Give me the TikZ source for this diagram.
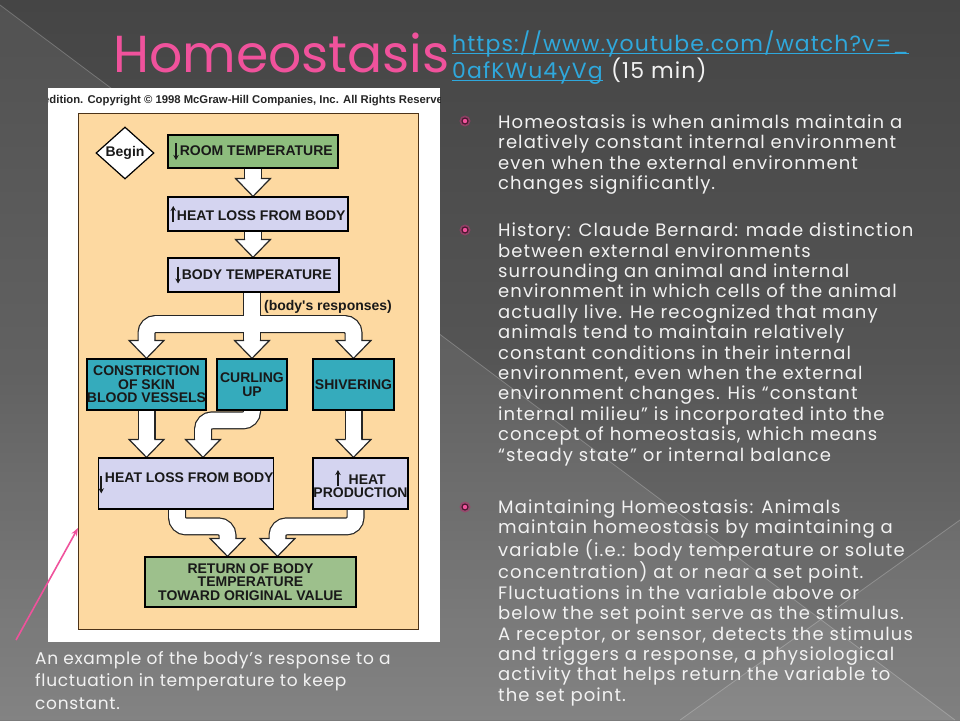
\documentclass[tikz,border=0pt]{standalone}
\usepackage{fontspec}
\setmainfont{Poppins}
\newfontfamily\hv{Liberation Sans}
\usetikzlibrary{shapes.geometric,arrows.meta,calc}
\definecolor{bgtop}{HTML}{454545}
\definecolor{bgmid}{HTML}{555555}
\definecolor{bgbot}{HTML}{7A7A7A}
\definecolor{pinkt}{HTML}{F0529C}
\definecolor{urlc}{HTML}{2FA8DC}
\definecolor{panelc}{HTML}{FDD9A1}
\definecolor{greenc}{HTML}{8DBD7D}
\definecolor{greenr}{HTML}{9DC08C}
\definecolor{lavc}{HTML}{D4D4F0}
\definecolor{tealc}{HTML}{35ABBC}
\definecolor{txtc}{HTML}{F2F2F2}
\pgfdeclarelayer{bg}
\pgfdeclarelayer{arr}
\pgfsetlayers{bg,arr,main}
\newcommand\dnar{\tikz[baseline=0pt]\draw[line width=1.5pt,-{Stealth[length=5pt,width=5.5pt]}] (0pt,12.5pt)--(0pt,-4.5pt);\hspace{1pt}}
\newcommand\upar{\tikz[baseline=0pt]\draw[line width=1.5pt,-{Stealth[length=5pt,width=5.5pt]}] (0pt,-2pt)--(0pt,14pt);\hspace{1pt}}
\begin{document}
\begin{tikzpicture}[x=1pt,y=-1pt,
  box/.style={draw=black,line width=1.2pt,inner sep=0pt,align=center,
    font=\hv\bfseries\fontsize{14}{13.5}\selectfont,text=black!90},
  shaftB/.style={draw=black!85,line width=18pt,rounded corners=9pt},
  shaftW/.style={draw=white,line width=15.6pt,rounded corners=9pt},
  bhead/.pic={\filldraw[fill=white,draw=black!85,line width=1.2pt,line join=miter]
    (-7.8,-18) -- (-17.5,-18) -- (0,0) -- (17.5,-18) -- (7.8,-18);},
  bul/.pic={\fill[pinkt!70!black,opacity=0.7] (0,0) circle (5.5pt);
    \fill[black!70!pinkt] (0,0) circle (3.6pt);
    \fill[pinkt] (0,0) circle (2.2pt);},
  bodytxt/.style={anchor=north west,inner sep=0pt,align=left,text=txtc,
    font=\fontsize{18}{20.4}\selectfont\addfontfeatures{LetterSpace=6}},
  captxt/.style={anchor=north west,inner sep=0pt,align=left,text=txtc,
    font=\fontsize{17}{22.5}\selectfont\addfontfeatures{LetterSpace=4}},
  urltxt/.style={anchor=base west,inner sep=0pt,
    font=\fontsize{22}{25}\selectfont\addfontfeatures{LetterSpace=5}},
  uline/.style={draw=urlc,line width=1pt}]
\useasboundingbox (0,0) rectangle (960,720);
\begin{pgfonlayer}{bg}
  \fill[top color=bgtop,bottom color=bgbot,middle color=bgmid] (0,0) rectangle (960,720);
  \fill[white,opacity=0.07] (0,5) -- (955,720) -- (0,720) -- cycle;
  \fill[white,opacity=0.05] (680,720) -- (960,520) -- (960,720) -- cycle;
  \draw[white,opacity=0.22,line width=0.8pt] (0,5) -- (955,720);
  \draw[white,opacity=0.22,line width=0.8pt] (680,720) -- (960,520);
  \fill[white] (48,88) rectangle (440,642);
  \begin{scope}
    \clip (48,88) rectangle (440,642);
    \node[anchor=base west,inner sep=0pt,text=black!85,font=\hv\bfseries\fontsize{11.3}{11.3}\selectfont]
      (copy) at (43,103) {edition. Copyright \textcopyright{} 1998 McGraw-Hill Companies, Inc. All Rights Reserved.};
  \end{scope}
  \fill[panelc,draw=black!60!brown,line width=1pt] (78,113) rectangle (418,629);
\end{pgfonlayer}

% title and url
\node[anchor=base west,inner sep=0pt,text=pinkt,font=\fontsize{52}{52}\selectfont] (title) at (113,72) {Homeostasis};
\node[urltxt,text=urlc] (url1) at (452,51.5) {https://www.youtube.com/watch?v=\_};
\node[urltxt,text=urlc] (url2) at (452,78.5) {0afKWu4yVg};
\node[urltxt,text=txtc,anchor=base west] (url3) at ($(url2.base east)+(8,0)$) {(15 min)};
\draw[uline] ($(url1.base west)+(0,2)$) -- ($(url1.base east)+(0,2)$);
\draw[uline] ($(url2.base west)+(0,2)$) -- ($(url2.base east)+(0,2)$);

% flowchart nodes
\node[box,diamond,fill=white,minimum width=58pt,minimum height=26pt] (begin) at (125,153) {Begin};
\node[box,fill=greenc,minimum width=170pt,minimum height=33pt] (room) at (253,151.5) {\dnar ROOM TEMPERATURE};
\node[box,fill=lavc,minimum width=180pt,minimum height=34pt] (heat1) at (258,214) {\upar HEAT LOSS FROM BODY};
\node[box,fill=lavc,minimum width=171pt,minimum height=34pt] (bodyt) at (253.5,275) {\dnar BODY TEMPERATURE};
\node[inner sep=0pt,font=\hv\bfseries\fontsize{14}{14}\selectfont,text=black!90] (resp) at (328,307) {(body's responses)};
\node[box,fill=tealc,minimum width=119pt,minimum height=51pt] (constr) at (146.5,384.5) {CONSTRICTION\\OF SKIN\\BLOOD VESSELS};
\node[box,fill=tealc,minimum width=70pt,minimum height=51pt] (curl) at (252,384.5) {CURLING\\UP};
\node[box,fill=tealc,minimum width=81pt,minimum height=51pt] (shiv) at (353.5,384.5) {SHIVERING};
\node[box,fill=lavc,minimum width=174pt,minimum height=51pt] (heat2) at (186,483.5) {\raisebox{-6pt}{\dnar}HEAT LOSS FROM BODY};
\node[box,fill=lavc,minimum width=95pt,minimum height=51pt] (prod) at (360.5,483.5) {\upar\hspace{7pt}HEAT\\PRODUCTION};
\node[box,fill=greenr,minimum width=211pt,minimum height=50pt] (ret) at (250.5,582) {RETURN OF BODY\\TEMPERATURE\\TOWARD ORIGINAL VALUE};

% block arrows
\coordinate (t1) at (room.south |- heat1.north);
\coordinate (t2) at (room.south |- bodyt.north);
\coordinate (bar) at (252,324);
\coordinate (t4) at (constr.south |- heat2.north);
\coordinate (c2) at ($(heat2.north)+(17,0)$);
\coordinate (t6) at (shiv.south |- prod.north);
\coordinate (r1) at ($(ret.north)+(-23,0)$);
\coordinate (r2) at ($(ret.north)+(27,0)$);
\newcommand\shaftset[1]{%
  \draw[#1] (room.south) -- ($(t1)+(0,-17.5)$);
  \draw[#1] (room.south |- heat1.south) -- ($(t2)+(0,-17.5)$);
  \draw[#1] (curl.north |- bodyt.south) -- ($(curl.north)+(0,-17.5)$);
  \draw[#1] ($(constr.north)+(0,-17.5)$) |- (bar) -| ($(shiv.north)+(0,-17.5)$);
  \draw[#1] (constr.south) -- ($(t4)+(0,-17.5)$);
  \draw[#1] (curl.south) |- ($(c2)+(0,-37)$) -- ($(c2)+(0,-17.5)$);
  \draw[#1] (shiv.south) -- ($(t6)+(0,-17.5)$);
  \draw[#1] ($(heat2.south)+(-9,0)$) |- ($(r1)+(0,-30)$) -- ($(r1)+(0,-17.5)$);
  \draw[#1] ($(prod.south)+(-5,0)$) |- ($(r2)+(0,-30)$) -- ($(r2)+(0,-17.5)$);}
\begin{pgfonlayer}{arr}
  \shaftset{shaftB}
  \shaftset{shaftW}
  \pic at (t1) {bhead};
  \pic at (t2) {bhead};
  \pic at (constr.north) {bhead};
  \pic at (curl.north) {bhead};
  \pic at (shiv.north) {bhead};
  \pic at (t4) {bhead};
  \pic at (c2) {bhead};
  \pic at (t6) {bhead};
  \pic at (r1) {bhead};
  \pic at (r2) {bhead};
\end{pgfonlayer}

% pink pointer
\coordinate (ptail) at (16,640);
\coordinate (ptip) at (78,528);
\draw[pinkt,line width=1.6pt,-{Stealth[length=8pt,width=6pt]}] (ptail) -- (ptip);

% caption
\node[captxt] (caption) at (35,651) {An example of the body’s response to a\\fluctuation in temperature to keep\\constant.};

% bullets
\pic at (465,121) {bul};
\pic at (465,230) {bul};
\pic at (465,507) {bul};
\node[bodytxt] (p1) at (498,114.5) {Homeostasis is when animals maintain a\\relatively constant internal environment\\even when the external environment\\changes significantly.};
\node[bodytxt] (p2) at (498,222.7) {History: Claude Bernard: made distinction\\between external environments\\surrounding an animal and internal\\environment in which cells of the animal\\actually live. He recognized that many\\animals tend to maintain relatively\\constant conditions in their internal\\environment, even when the external\\environment changes. His “constant\\internal milieu” is incorporated into the\\concept of homeostasis, which means\\“steady state” or internal balance};
\node[bodytxt] (p3) at (498,499.5) {Maintaining Homeostasis: Animals\\maintain homeostasis by maintaining a\\variable (i.e.: body temperature or solute\\concentration) at or near a set point.\\Fluctuations in the variable above or\\below the set point serve as the stimulus.\\A receptor, or sensor, detects the stimulus\\and triggers a response, a physiological\\activity that helps return the variable to\\the set point.};
\end{tikzpicture}
\end{document}
